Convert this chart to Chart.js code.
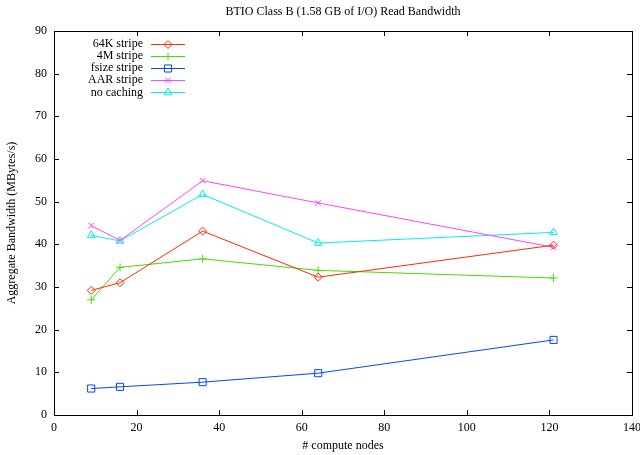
<!DOCTYPE html>
<html>
<head>
<meta charset="utf-8">
<script src="https://cdn.jsdelivr.net/npm/chart.js@4"></script>
<style>
  html, body { margin: 0; padding: 0; background: #fff; }
</style>
</head>
<body>
<canvas id="bw-chart" width="640" height="455"></canvas>
<script>
const nodes = [9, 16, 36, 64, 121];
const stripe64K = [29.2, 31.0, 43.1, 32.3, 39.8];
const stripe4M = [27.0, 34.6, 36.6, 33.9, 32.1];
const fsizeStripe = [6.2, 6.6, 7.7, 9.8, 17.6];
const aarStripe = [44.4, 40.9, 54.9, 49.7, 39.3];
const noCaching = [42.1, 40.8, 51.7, 40.3, 42.8];
const xTicks = [0, 20, 40, 60, 80, 100, 120, 140];
const yTicks = [0, 10, 20, 30, 40, 50, 60, 70, 80, 90];

const FONT = '"Liberation Serif", "Times New Roman", serif';

function toPoints(ys) {
  return nodes.map((x, i) => ({ x: x, y: ys[i] }));
}

function series(label, ys, color, style, radius) {
  return {
    label: label,
    data: toPoints(ys),
    borderColor: color,
    backgroundColor: color,
    borderWidth: 1,
    pointStyle: style,
    pointRadius: radius,
    pointBorderColor: color,
    pointBackgroundColor: 'rgba(0,0,0,0)',
    pointBorderWidth: 1,
    tension: 0,
  };
}

// gnuplot look: border, inner ticks, legend, titles
const gnuplotFrame = {
  id: 'gnuplotFrame',
  afterDraw(chart) {
    const ctx = chart.ctx;
    const a = chart.chartArea;
    const xs = chart.scales.x;
    const ys = chart.scales.y;
    ctx.save();

    ctx.strokeStyle = '#000';
    ctx.lineWidth = 1;
    ctx.strokeRect(a.left + 0.5, a.top + 0.5, a.right - a.left, a.bottom - a.top);

    ctx.beginPath();
    xTicks.forEach(v => {
      const px = Math.round(xs.getPixelForValue(v)) + 0.5;
      ctx.moveTo(px, a.bottom); ctx.lineTo(px, a.bottom - 5);
      ctx.moveTo(px, a.top); ctx.lineTo(px, a.top + 5);
    });
    yTicks.forEach(v => {
      const py = Math.round(ys.getPixelForValue(v)) + 0.5;
      ctx.moveTo(a.left, py); ctx.lineTo(a.left + 5, py);
      ctx.moveTo(a.right, py); ctx.lineTo(a.right - 5, py);
    });
    ctx.stroke();

    ctx.fillStyle = '#000';
    ctx.font = '12px ' + FONT;
    ctx.textAlign = 'center';
    ctx.textBaseline = 'middle';
    ctx.fillText('BTIO Class B (1.58 GB of I/O) Read Bandwidth', (a.left + a.right) / 2, 12);
    ctx.fillText('# compute nodes', (a.left + a.right) / 2, 446);

    ctx.save();
    ctx.translate(12, (a.top + a.bottom) / 2);
    ctx.rotate(-Math.PI / 2);
    ctx.fillText('Aggregate Bandwidth (MBytes/s)', 0, 0);
    ctx.restore();

    // legend
    chart.data.datasets.forEach((ds, i) => {
      const y = 44 + i * 12.1;
      ctx.fillStyle = '#000';
      ctx.textAlign = 'right';
      ctx.fillText(ds.label, 143, y);
      ctx.strokeStyle = ds.borderColor;
      ctx.lineWidth = 1;
      ctx.beginPath();
      ctx.moveTo(151, Math.round(y) + 0.5);
      ctx.lineTo(185, Math.round(y) + 0.5);
      ctx.stroke();
      ctx.fillStyle = 'rgba(0,0,0,0)';
      Chart.helpers.drawPoint(ctx, {
        pointStyle: ds.pointStyle,
        radius: ds.pointRadius,
        rotation: 0,
        borderWidth: 1,
      }, 168, Math.round(y) + 0.5);
    });

    ctx.restore();
  },
};

function createBandwidthChart() {
  const ctx = document.getElementById('bw-chart').getContext('2d');
  new Chart(ctx, {
    type: 'line',
    data: {
      datasets: [
        series('64K stripe', stripe64K, '#ff2a00', 'rectRot', 4),
        series('4M stripe', stripe4M, '#44dd00', 'cross', 4),
        series('fsize stripe', fsizeStripe, '#0048ff', 'rect', 5),
        series('AAR stripe', aarStripe, '#ff44ff', 'crossRot', 4),
        series('no caching', noCaching, '#00eeee', 'triangle', 4.5),
      ],
    },
    options: {
      responsive: false,
      animation: false,
      layout: { padding: { left: 0, right: 8, top: 31, bottom: 0 } },
      plugins: {
        legend: { display: false },
        title: { display: false },
        tooltip: { enabled: false },
      },
      scales: {
        x: {
          type: 'linear',
          min: 0,
          max: 140,
          afterBuildTicks: s => { s.ticks = xTicks.map(v => ({ value: v })); },
          afterFit: s => { s.height = 40; s.paddingLeft = 0; s.paddingRight = 0; },
          grid: { display: false, drawTicks: false },
          border: { display: false },
          ticks: { padding: 6, color: '#000', font: { family: FONT, size: 12 }, maxRotation: 0 },
        },
        y: {
          type: 'linear',
          min: 0,
          max: 90,
          afterBuildTicks: s => { s.ticks = yTicks.map(v => ({ value: v })); },
          afterFit: s => { s.width = 54; s.paddingTop = 0; s.paddingBottom = 0; },
          grid: { display: false, drawTicks: false },
          border: { display: false },
          ticks: { padding: 7, color: '#000', font: { family: FONT, size: 12 } },
        },
      },
    },
    plugins: [gnuplotFrame],
  });
}

document.addEventListener('DOMContentLoaded', () => {
  createBandwidthChart();
});
</script>
</body>
</html>
